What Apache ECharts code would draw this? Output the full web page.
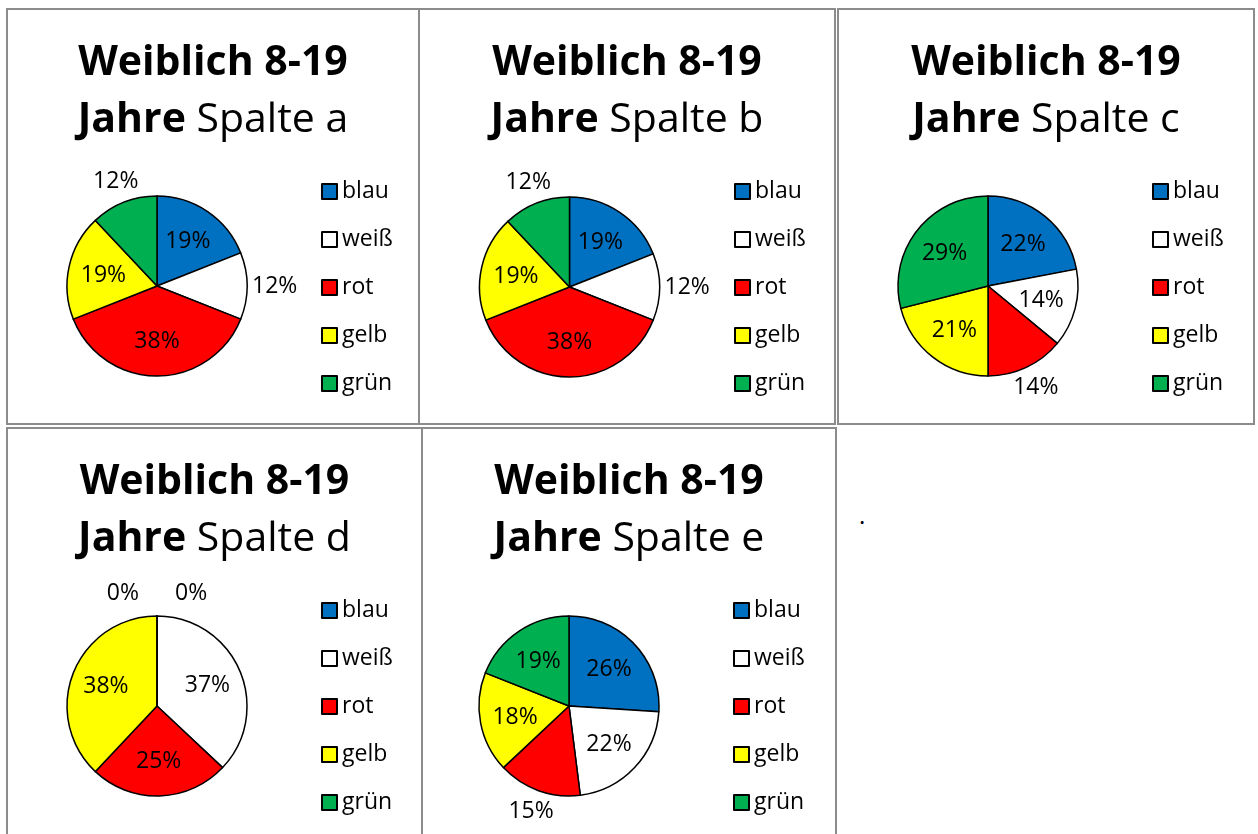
<!DOCTYPE html>
<html><head><meta charset="utf-8">
<script src="https://cdn.jsdelivr.net/npm/echarts@6/dist/echarts.min.js"></script>
<style>
html,body{margin:0;padding:0;background:#fff;width:1258px;height:834px;overflow:hidden;position:relative;}
.panel{position:absolute;box-sizing:border-box;border:2px solid #8c8c8c;background:#fff;}
.dot{position:absolute;font-family:'Open Sans';font-size:24px;line-height:22px;color:#000;}
</style></head><body>
<div id="p0" class="panel" style="left:6px;top:8px;width:414px;height:417px"></div>
<div id="p1" class="panel" style="left:418px;top:8px;width:418px;height:417px"></div>
<div id="p2" class="panel" style="left:837px;top:8px;width:418px;height:417px"></div>
<div id="p3" class="panel" style="left:6px;top:427px;width:417px;height:420px"></div>
<div id="p4" class="panel" style="left:421px;top:427px;width:416px;height:420px"></div>
<span class="dot" style="left:859px;top:504px">.</span>
<script>
// ---- data ----
const categories = ['blau', 'weiß', 'rot', 'gelb', 'grün'];
const columnNames = ['a', 'b', 'c', 'd', 'e'];
const titleBold1 = 'Weiblich 8-19';
const titleBold2 = 'Jahre';
const titleNormal = 'Spalte';
const valuesA = [19, 12, 38, 19, 12];
const valuesB = [19, 12, 38, 19, 12];
const valuesC = [22, 14, 14, 21, 29];
const valuesD = [0, 37, 25, 38, 0];
const valuesE = [26, 22, 15, 18, 19];
const allValues = [valuesA, valuesB, valuesC, valuesD, valuesE];

// ---- style / layout ----
const colors = ['#0070C0', '#FFFFFF', '#FF0000', '#FFFF00', '#00B050'];
const outsideLabels = [[1, 4], [1, 4], [2], [0, 4], [2]];
const centers = [[149, 276], [149.5, 277], [149, 276], [149, 277], [146, 277]];
const legendLeft = [313, 314, 313, 313, 310];
const R = 90;
const FONT = 'Open Sans';

function makeLayout(values, center, r, outside) {
  const total = values.reduce((a, b) => a + b, 0);
  const cum = []; let s = 0;
  values.forEach(v => { cum.push(s); s += v; });
  return function (p) {
    const i = p.dataIndex, v = values[i];
    const m = (cum[i] + v / 2) / total;
    const th = m * 2 * Math.PI;
    const ux = Math.sin(th), uy = -Math.cos(th);
    const w = p.labelRect.width, h = p.labelRect.height;
    let x, y;
    if (outside.indexOf(i) < 0) {
      x = center[0] + ux * r * 0.61; y = center[1] + uy * r * 0.61 + 1;
    } else if (v === 0) {
      const sg = m < 0.5 ? 1 : -1;
      x = center[0] + sg * (w / 2 + 18); y = center[1] - r - (h / 2 + 11);
    } else {
      const ex = Math.abs(ux) > 1e-6 ? w / 2 / Math.abs(ux) : 1e9;
      const ey = Math.abs(uy) > 1e-6 ? h / 2 / Math.abs(uy) : 1e9;
      const d = r + Math.min(ex, ey) + 5 + 5 * Math.abs(uy);
      x = center[0] + ux * d; y = center[1] + uy * d;
    }
    return { x: x, y: y, align: 'center', verticalAlign: 'middle' };
  };
}

allValues.forEach(function (vals, k) {
  const chart = echarts.init(document.getElementById('p' + k), null, { renderer: 'canvas' });
  chart.setOption({
    animation: false,
    color: colors,
    title: {
      left: 'center', top: 25, padding: 0,
      text: '{b|' + titleBold1 + '}\n{b|' + titleBold2 + '}{n| ' + titleNormal + ' ' + columnNames[k] + '}',
      textStyle: {
        rich: {
          b: { fontFamily: FONT, fontSize: 41, fontWeight: 'bold', color: '#000', lineHeight: 57 },
          n: { fontFamily: FONT, fontSize: 41, fontWeight: 'normal', color: '#000', lineHeight: 57 }
        }
      }
    },
    legend: {
      orient: 'vertical', left: legendLeft[k], top: 170, padding: 0,
      icon: 'rect', itemWidth: 15, itemHeight: 15, itemGap: 25,
      selectedMode: false,
      data: categories,
      textStyle: { fontFamily: FONT, fontSize: 23, color: '#000' }
    },
    series: [{
      type: 'pie',
      center: centers[k], radius: R,
      startAngle: 90, clockwise: true,
      avoidLabelOverlap: false,
      itemStyle: { borderColor: '#000', borderWidth: 1.5 },
      label: {
        show: true, position: 'inside', color: '#000',
        fontFamily: FONT, fontSize: 23,
        formatter: function (p) { return Math.round(p.percent) + '%'; }
      },
      labelLine: { show: false },
      labelLayout: makeLayout(vals, centers[k], R, outsideLabels[k]),
      emphasis: { disabled: true },
      data: categories.map(function (c, i) { return { name: c, value: vals[i] }; })
    }]
  });
});
</script>
</body></html>
